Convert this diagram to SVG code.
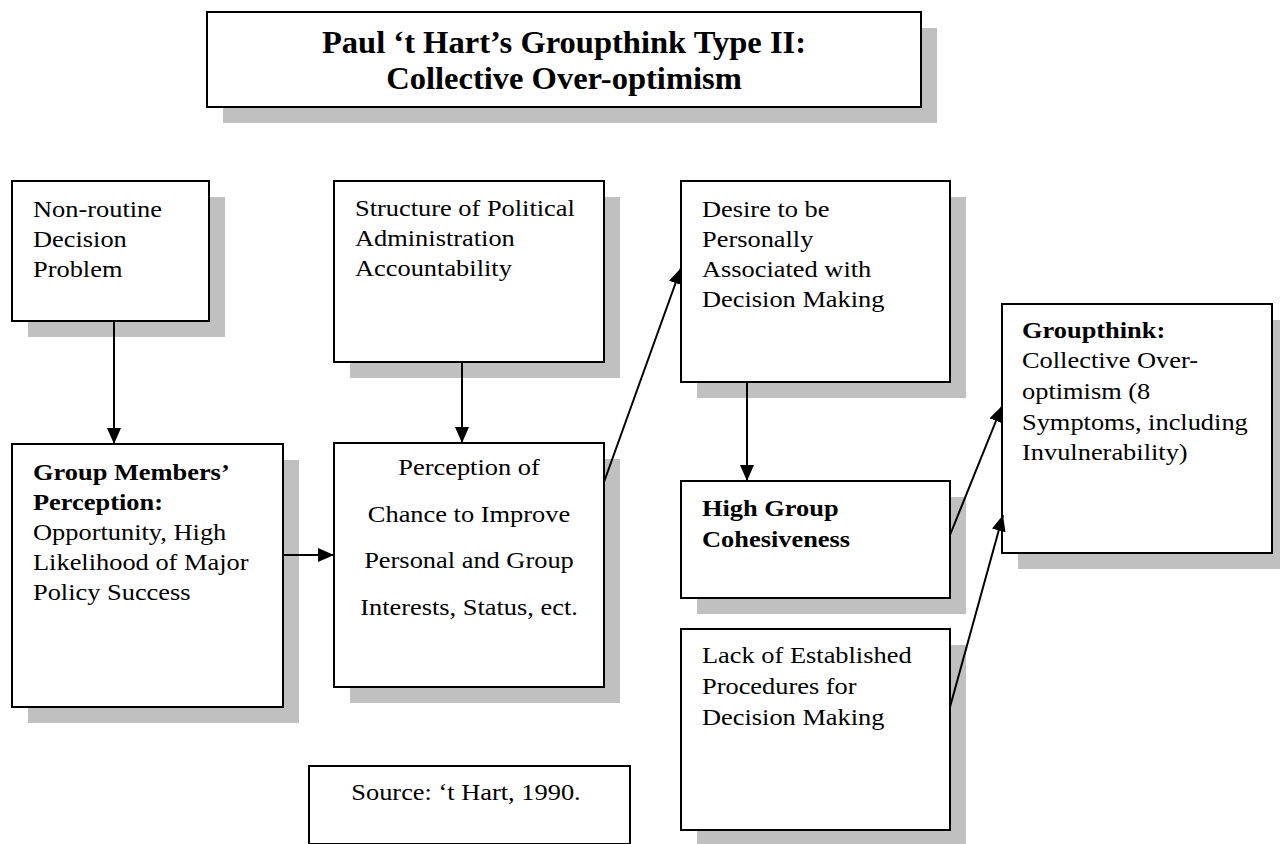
<svg xmlns="http://www.w3.org/2000/svg" width="1280" height="844" viewBox="0 0 1280 844">
<style>
.shadow{fill:#c0c0c0}
.box{fill:#fff;stroke:#000;stroke-width:2}
.t{font-family:"Liberation Serif","Times New Roman",serif;font-size:24px;fill:#000}
.b{font-weight:bold}
.title{font-family:"Liberation Serif","Times New Roman",serif;font-size:31px;font-weight:bold;fill:#000;text-anchor:middle}
.c{text-anchor:middle}
.conn line{stroke:#000;stroke-width:2;marker-end:url(#ah)}
</style>
<defs>
<marker id="ah" markerUnits="userSpaceOnUse" markerWidth="16" markerHeight="14" refX="16" refY="7" orient="auto">
<path d="M0,0 L16,7 L0,14 Z" fill="#000"/>
</marker>
</defs>
<rect width="1280" height="844" fill="#fff"/>

<g id="title">
<rect class="shadow" x="223" y="28" width="714" height="95"/>
<rect class="box" x="207" y="12" width="714" height="95"/>
<g transform="matrix(1.05 0 0 1 -28.2 0)">
<text class="title" x="564" y="53">Paul ‘t Hart’s Groupthink Type II:</text>
<text class="title" x="564" y="89">Collective Over-optimism</text>
</g>
</g>

<g id="nonroutine">
<rect class="shadow" x="28" y="197" width="197" height="140"/>
<rect class="box" x="12" y="181" width="197" height="140"/>
<g class="t" transform="matrix(1.1 0 0 1 -3.3 0)">
<text x="33" y="217">Non-routine</text>
<text x="33" y="247">Decision</text>
<text x="33" y="277">Problem</text>
</g>
</g>

<g id="structure">
<rect class="shadow" x="350" y="197" width="270" height="181"/>
<rect class="box" x="334" y="181" width="270" height="181"/>
<g class="t" transform="matrix(1.1 0 0 1 -35.5 0)">
<text x="355" y="216">Structure of Political</text>
<text x="355" y="246">Administration</text>
<text x="355" y="276">Accountability</text>
</g>
</g>

<g id="desire">
<rect class="shadow" x="697" y="197" width="269" height="201"/>
<rect class="box" x="681" y="181" width="269" height="201"/>
<g class="t" transform="matrix(1.1 0 0 1 -70.2 0)">
<text x="702" y="217">Desire to be</text>
<text x="702" y="247">Personally</text>
<text x="702" y="277">Associated with</text>
<text x="702" y="307">Decision Making</text>
</g>
</g>

<g id="groupthink">
<rect class="shadow" x="1018" y="320" width="270" height="249"/>
<rect class="box" x="1002" y="304" width="270" height="249"/>
<g class="t" transform="matrix(1.1 0 0 1 -102.2 0)">
<text class="b" x="1022" y="338">Groupthink:</text>
<text x="1022" y="368">Collective Over-</text>
<text x="1022" y="399">optimism (8</text>
<text x="1022" y="430">Symptoms, including</text>
<text x="1022" y="460">Invulnerability)</text>
</g>
</g>

<g id="members">
<rect class="shadow" x="28" y="460" width="271" height="263"/>
<rect class="box" x="12" y="444" width="271" height="263"/>
<g class="t" transform="matrix(1.1 0 0 1 -3.3 0)">
<text class="b" x="33" y="480">Group Members’</text>
<text class="b" x="33" y="510">Perception:</text>
<text x="33" y="540">Opportunity, High</text>
<text x="33" y="570">Likelihood of Major</text>
<text x="33" y="600">Policy Success</text>
</g>
</g>

<g id="perception">
<rect class="shadow" x="350" y="459" width="270" height="244"/>
<rect class="box" x="334" y="443" width="270" height="244"/>
<g class="t c" transform="matrix(1.1 0 0 1 -46.9 0)">
<text x="469" y="475">Perception of</text>
<text x="469" y="522">Chance to Improve</text>
<text x="469" y="568">Personal and Group</text>
<text x="469" y="615">Interests, Status, ect.</text>
</g>
</g>

<g id="cohesiveness">
<rect class="shadow" x="697" y="497" width="269" height="117"/>
<rect class="box" x="681" y="481" width="269" height="117"/>
<g class="t b" transform="matrix(1.1 0 0 1 -70.2 0)">
<text x="702" y="516">High Group</text>
<text x="702" y="547">Cohesiveness</text>
</g>
</g>

<g id="lack">
<rect class="shadow" x="697" y="645" width="269" height="201"/>
<rect class="box" x="681" y="629" width="269" height="201"/>
<g class="t" transform="matrix(1.1 0 0 1 -70.2 0)">
<text x="702" y="663">Lack of Established</text>
<text x="702" y="694">Procedures for</text>
<text x="702" y="725">Decision Making</text>
</g>
</g>

<g id="source">
<rect class="box" x="309" y="766" width="321" height="78" stroke-width="1.5"/>
<g class="t c" transform="matrix(1.1 0 0 1 -46.6 0)">
<text x="466" y="800">Source: ‘t Hart, 1990.</text>
</g>
</g>

<g id="connectors" class="conn">
<line x1="114" y1="321" x2="114" y2="444"/>
<line x1="462" y1="362" x2="462" y2="443"/>
<line x1="283" y1="555" x2="334" y2="555"/>
<line x1="604" y1="482" x2="681" y2="268"/>
<line x1="747" y1="382" x2="747" y2="481"/>
<line x1="950" y1="535" x2="1002" y2="406"/>
<line x1="950" y1="707" x2="1003" y2="515"/>
</g>
</svg>
